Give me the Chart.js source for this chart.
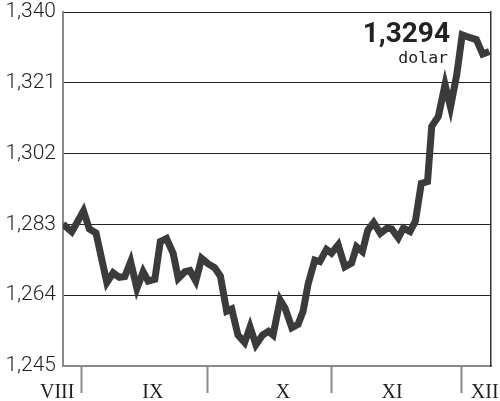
<!DOCTYPE html>
<html>
<head>
<meta charset="utf-8">
<script src="https://cdn.jsdelivr.net/npm/chart.js@4/dist/chart.umd.min.js"></script>
<style>
  html, body { margin: 0; padding: 0; background: #fff; }
  #wrap { width: 500px; height: 401px; }
</style>
</head>
<body>
<div id="wrap"><canvas id="chart"></canvas></div>
<script>
// kurs (dzień od początku okresu, wartość)
var days = [0, 2.1, 4.9, 6.3, 7.9, 10.5, 12.0, 13.5, 14.8, 16.2, 17.7, 19.2, 20.4, 22.0, 23.3, 24.8,
	26.4, 27.6, 29.2, 30.4, 31.8, 33.2, 34.8, 36.3, 37.7, 39.2, 40.4, 41.9, 43.5, 44.8, 46.2, 47.8,
	49.2, 50.3, 52.0, 53.2, 54.8, 56.3, 57.5, 58.7, 60.3, 61.5, 63.1, 64.3, 65.9, 67.5, 69.1, 70.3,
	71.7, 73.0, 74.4, 76.0, 77.6, 78.7, 80.3, 81.5, 83.1, 84.4, 85.8, 87.3, 88.3, 89.9, 91.5, 92.8,
	94.3, 95.6, 97.5, 99.0, 100.5, 102.1];
var rates = [1.2831, 1.2810, 1.2866, 1.2818, 1.2807, 1.2674, 1.2700, 1.2688, 1.2690, 1.2730, 1.2658, 1.2703, 1.2678, 1.2683, 1.2784, 1.2792,
	1.2752, 1.2685, 1.2703, 1.2706, 1.2678, 1.2739, 1.2724, 1.2714, 1.2691, 1.2597, 1.2603, 1.2533, 1.2513, 1.2555, 1.2507, 1.2533,
	1.2543, 1.2533, 1.2627, 1.2605, 1.2553, 1.2562, 1.2597, 1.2670, 1.2734, 1.2730, 1.2763, 1.2753, 1.2775, 1.2716, 1.2726, 1.2770,
	1.2757, 1.2815, 1.2835, 1.2806, 1.2820, 1.2818, 1.2794, 1.2820, 1.2811, 1.2839, 1.2940, 1.2945, 1.3093, 1.3120, 1.3205, 1.3145,
	1.3232, 1.3339, 1.3331, 1.3326, 1.3287, 1.3294];

var yTicks = [1.245, 1.264, 1.283, 1.302, 1.321, 1.340];
var monthNames = ['VIII', 'IX', 'X', 'XI', 'XII'];
var monthCenters = [-1.4, 21.5, 52.7, 78.8, 101.0];
var monthBreaks = [4.5, 34.5, 64.2, 95.5];

var unit = 'dolar';

function fmt(v, d) {
	return v.toFixed(d).replace('.', ',');
}

var points = days.map(function(d, i) {
	return { x: d, y: rates[i] };
});

// etykiety miesięcy i kreski podziału na jednej osi
var xTicks = [];
monthCenters.forEach(function(c, i) { xTicks.push({ value: c, text: monthNames[i] }); });
monthBreaks.forEach(function(b) { xTicks.push({ value: b, text: '' }); });
xTicks.sort(function(a, b) { return a.value - b.value; });

var lastValue = {
	id: 'lastValue',
	afterDraw: function(chart) {
		var ctx = chart.ctx;
		ctx.save();
		ctx.fillStyle = '#222';
		ctx.textAlign = 'right';
		ctx.textBaseline = 'alphabetic';
		ctx.font = 'bold 28px Roboto';
		ctx.fillText(fmt(rates[rates.length - 1], 4), 450, 42);
		ctx.font = '16.5px "DejaVu Sans Mono"';
		ctx.fillText(unit, 448, 63);
		ctx.restore();
	}
};

new Chart(document.getElementById('chart'), {
	type: 'line',
	data: {
		datasets: [{
			data: points,
			borderColor: '#3b3b3b',
			borderWidth: 7,
			borderJoinStyle: 'miter',
			pointRadius: 0,
			tension: 0
		}]
	},
	options: {
		responsive: true,
		maintainAspectRatio: false,
		animation: false,
		layout: { padding: { top: 12, left: 0, right: 0, bottom: 0 } },
		plugins: { legend: { display: false }, tooltip: { enabled: false } },
		scales: {
			x: {
				type: 'linear',
				min: 0,
				max: 102.5,
				afterFit: function(s) {
					s.height = 35;
					s.paddingLeft = 0;
					s.paddingRight = 0;
				},
				afterBuildTicks: function(s) {
					s.ticks = xTicks.map(function(t) { return { value: t.value }; });
				},
				grid: {
					drawOnChartArea: false,
					tickLength: 27,
					tickWidth: 2,
					tickColor: function(c) {
						return monthBreaks.indexOf(c.tick.value) >= 0 ? '#8a8a8a' : 'rgba(0,0,0,0)';
					}
				},
				border: { color: '#8a8a8a', width: 2 },
				ticks: {
					autoSkip: false,
					maxRotation: 0,
					padding: -12,
					color: '#1e1e1e',
					font: { family: '"Liberation Serif"', size: 20 },
					callback: function(v, i) { return xTicks[i].text; }
				}
			},
			y: {
				min: 1.245,
				max: 1.340,
				afterFit: function(s) {
					s.width = 63;
					s.paddingTop = 0;
					s.paddingBottom = 0;
				},
				afterBuildTicks: function(s) {
					s.ticks = yTicks.map(function(v) { return { value: v }; });
				},
				grid: { color: '#222', lineWidth: 1, drawTicks: false },
				border: { color: '#8a8a8a', width: 2 },
				ticks: {
					padding: 7,
					color: '#1e1e1e',
					font: { family: 'Roboto', size: 21, weight: '300' },
					callback: function(v) { return fmt(v, 3); }
				}
			},
			y2: {
				position: 'right',
				min: 1.245,
				max: 1.340,
				afterFit: function(s) {
					s.width = 9;
					s.paddingTop = 0;
					s.paddingBottom = 0;
				},
				grid: { display: false },
				border: { color: '#333', width: 1.5 },
				ticks: { display: false }
			}
		}
	},
	plugins: [lastValue]
});
</script>
</body>
</html>
